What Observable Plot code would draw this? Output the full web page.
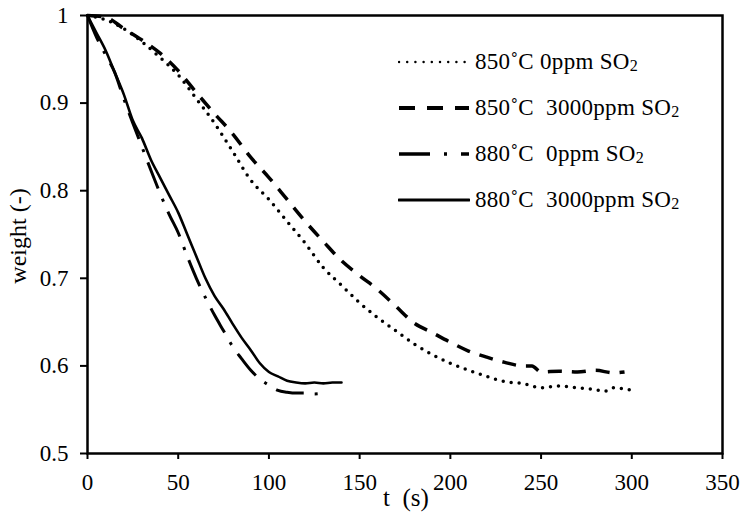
<!DOCTYPE html>
<html><head><meta charset="utf-8">
<script src="https://cdn.jsdelivr.net/npm/d3@7"></script>
<script src="https://cdn.jsdelivr.net/npm/@observablehq/plot@0.6"></script>
<style>
body{margin:0;background:#fff;}
#wrap{position:relative;width:745px;height:513px;font-family:"Liberation Serif","Times New Roman",serif;color:#000;}
#wrap > svg text{font-size:23px !important;font-family:"Liberation Serif","Times New Roman",serif !important;}
.lab{position:absolute;white-space:nowrap;line-height:1;}
.leg{position:absolute;left:398px;height:26px;display:flex;align-items:center;white-space:nowrap;font-size:23px;letter-spacing:0.3px;}
.leg svg{margin-right:5px;}
sub{font-size:0.7em;vertical-align:-0.15em;line-height:0;}
</style></head><body><div id="wrap"></div>
<script>
// 850 °C, 0 ppm SO2 (dotted)
const t850_0 = [0,10,20,30,40,50,60,70,80,90,100,110,120,130,140,150,160,170,180,190,200,210,220,230,240,250,260,270,280,285,290,300];
const w850_0 = [1.0,0.995,0.985,0.97,0.952,0.932,0.905,0.877,0.845,0.812,0.79,0.765,0.74,0.712,0.692,0.672,0.655,0.64,0.625,0.613,0.603,0.595,0.588,0.582,0.58,0.575,0.577,0.575,0.573,0.571,0.575,0.572];
// 850 °C, 3000 ppm SO2 (dashed)
const t850_3000 = [0,10,20,30,40,50,60,70,80,90,100,110,120,130,140,150,160,170,180,190,200,210,220,230,240,245,250,260,270,280,290,296];
const w850_3000 = [1.0,0.998,0.985,0.972,0.957,0.937,0.912,0.888,0.865,0.838,0.815,0.79,0.765,0.742,0.72,0.703,0.687,0.668,0.649,0.638,0.627,0.617,0.61,0.604,0.6,0.6,0.593,0.594,0.593,0.595,0.592,0.593];
// 880 °C, 0 ppm SO2 (dash-dot)
const t880_0 = [0,5,10,15,20,25,30,35,40,45,50,55,60,65,70,75,80,85,90,95,100,105,110,115,120,125,130];
const w880_0 = [1.0,0.975,0.955,0.935,0.905,0.877,0.85,0.823,0.797,0.773,0.752,0.725,0.70,0.678,0.658,0.64,0.622,0.608,0.595,0.585,0.578,0.572,0.57,0.569,0.569,0.568,0.569];
// 880 °C, 3000 ppm SO2 (solid)
const t880_3000 = [0,5,10,15,20,25,30,35,40,45,50,55,60,65,70,75,80,85,90,95,100,105,110,115,120,125,130,135,140];
const w880_3000 = [1.0,0.98,0.96,0.935,0.91,0.88,0.86,0.835,0.815,0.795,0.775,0.75,0.725,0.70,0.68,0.665,0.648,0.632,0.618,0.603,0.593,0.588,0.583,0.581,0.58,0.581,0.58,0.581,0.581];

const xTicks = [0,50,100,150,200,250,300,350];
const yTicks = [0.5,0.6,0.7,0.8,0.9,1];
const seriesLabels = ["850˚C 0ppm SO|2", "850˚C  3000ppm SO|2", "880˚C  0ppm SO|2", "880˚C  3000ppm SO|2"];
const xLabel = "t  (s)";
const yLabel = "weight (-)";

const toRows = (ts, ws) => ts.map((t, i) => ({t, w: ws[i]}));
const s1 = toRows(t850_0, w850_0);
const s2 = toRows(t850_3000, w850_3000);
const s3 = toRows(t880_0, w880_0);
const s4 = toRows(t880_3000, w880_3000);

const styles = [
  {strokeWidth: 3.5, strokeDasharray: "0 8", strokeLinecap: "round"},
  {strokeWidth: 3.5, strokeDasharray: "14 10", strokeLinecap: "butt"},
  {strokeWidth: 3, strokeDasharray: "28 11 3 11", strokeLinecap: "butt"},
  {strokeWidth: 2.6, strokeDasharray: null, strokeLinecap: "round"}
];

const chart = Plot.plot({
  width: 745, height: 513,
  marginLeft: 87, marginRight: 23, marginTop: 15, marginBottom: 60,
  style: {fontFamily: "'Liberation Serif', 'Times New Roman', serif", fontSize: "23px", color: "#000", background: "#fff", overflow: "visible"},
  x: {domain: [0, 350]},
  y: {domain: [0.5, 1]},
  marks: [
    Plot.axisX({ticks: xTicks, tickSize: 6, tickPadding: 14, label: null, fontSize: 23, tickFormat: d => String(d), strokeWidth: 2}),
    Plot.axisY({ticks: yTicks, tickSize: 7, tickPadding: 12, label: null, fontSize: 23, tickFormat: d => String(+d.toFixed(1)), strokeWidth: 2}),
    Plot.line(s1, {x: "t", y: "w", stroke: "#000", curve: "monotone-x", ...styles[0]}),
    Plot.line(s2, {x: "t", y: "w", stroke: "#000", curve: "monotone-x", ...styles[1]}),
    Plot.line(s3, {x: "t", y: "w", stroke: "#000", curve: "monotone-x", ...styles[2]}),
    Plot.line(s4, {x: "t", y: "w", stroke: "#000", curve: "monotone-x", ...styles[3]}),
    Plot.frame({stroke: "#000", strokeWidth: 2.5})
  ]
});

const wrap = document.getElementById("wrap");
wrap.appendChild(chart);

// axis titles
const xl = document.createElement("div");
xl.className = "lab"; xl.style.fontSize = "25px"; xl.style.whiteSpace = "pre";
xl.textContent = xLabel;
xl.style.left = "406px"; xl.style.top = "485px"; xl.style.transform = "translateX(-50%)";
wrap.appendChild(xl);
const yl = document.createElement("div");
yl.className = "lab"; yl.style.fontSize = "24px";
yl.textContent = yLabel;
yl.style.left = "18px"; yl.style.top = "236px";
yl.style.transform = "translate(-50%,-50%) rotate(-90deg)";
wrap.appendChild(yl);

// legend
const rowY = [62, 108, 154, 200];
seriesLabels.forEach((lab, i) => {
  const row = document.createElement("div");
  row.className = "leg";
  row.style.top = (rowY[i] - 13) + "px";
  const st = styles[i];
  const svgNS = "http://www.w3.org/2000/svg";
  const svg = document.createElementNS(svgNS, "svg");
  svg.setAttribute("width", 72); svg.setAttribute("height", 10);
  const ln = document.createElementNS(svgNS, "line");
  ln.setAttribute("x1", 1); ln.setAttribute("x2", 71); ln.setAttribute("y1", 5); ln.setAttribute("y2", 5);
  ln.setAttribute("stroke", "#000");
  ln.setAttribute("stroke-width", i === 0 ? 2.5 : st.strokeWidth + 0.5);
  if (st.strokeDasharray) ln.setAttribute("stroke-dasharray", i === 0 ? "0 8.2" : i === 1 ? "16 12" : "31 14 3 14");
  ln.setAttribute("stroke-linecap", st.strokeLinecap);
  svg.appendChild(ln);
  row.appendChild(svg);
  const [main, sub] = lab.split("|");
  const span = document.createElement("span");
  span.style.whiteSpace = "pre";
  span.textContent = main;
  const sb = document.createElement("sub");
  sb.textContent = sub;
  span.appendChild(sb);
  row.appendChild(span);
  wrap.appendChild(row);
});
</script>
</body></html>
